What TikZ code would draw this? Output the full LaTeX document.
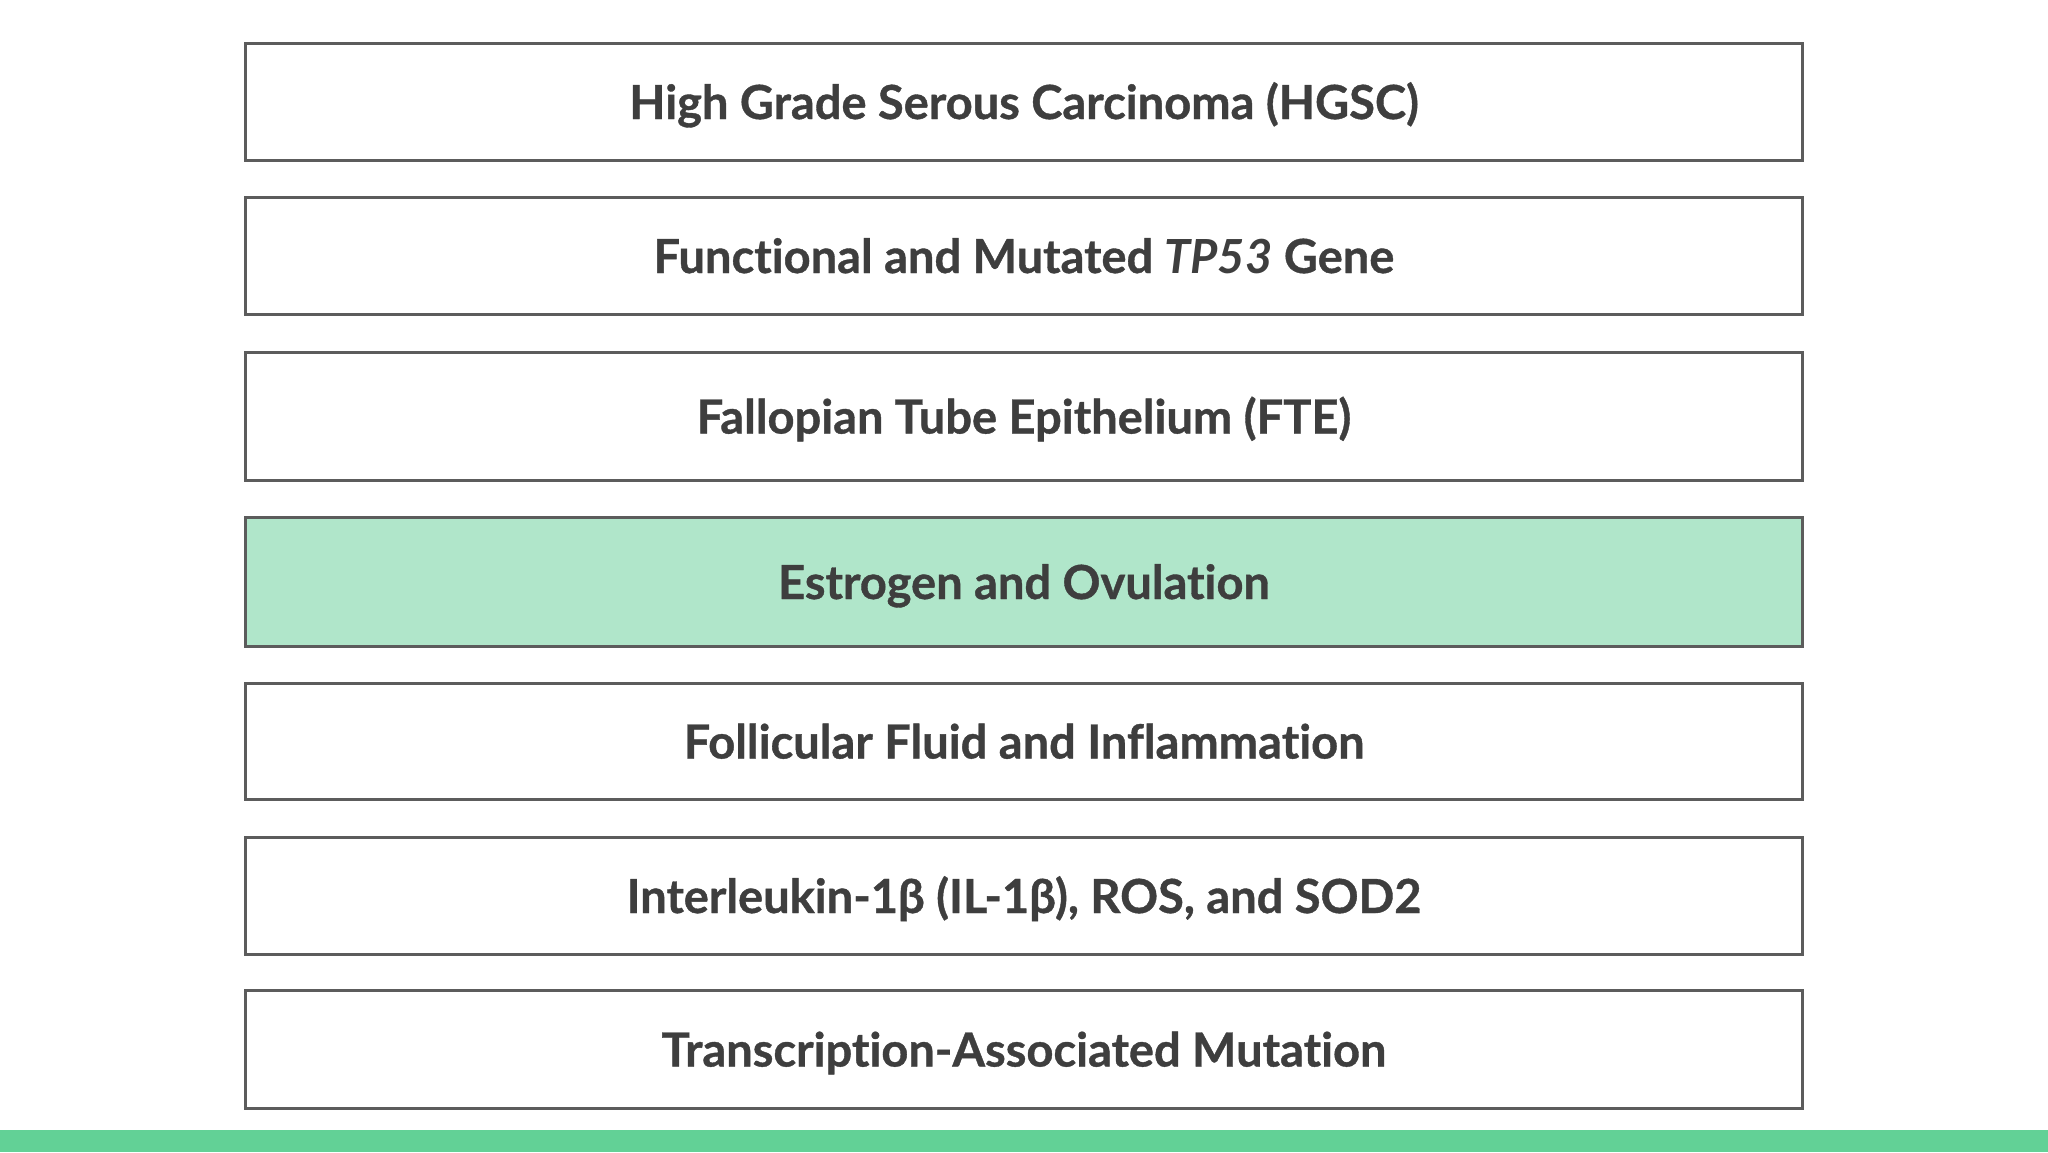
\documentclass[tikz,border=0pt]{standalone}
\usepackage{fontspec}
\setmainfont{Lato}[Ligatures={NoCommon,NoRare},BoldFeatures={FakeBold=0.8}]
\definecolor{edgegray}{HTML}{5C5C5C}
\definecolor{txtgray}{HTML}{3E3E3E}
\definecolor{mint}{HTML}{B0E6CA}
\definecolor{barg}{HTML}{62D196}
\begin{document}
\begin{tikzpicture}[x=1pt,y=-1pt,
  box/.style={draw=edgegray,line width=3pt,fill=white,minimum width=1557pt,
    inner sep=0pt,text=txtgray,text depth=0pt,
    font=\fontsize{47}{56}\selectfont\bfseries},
  hl/.style={box,fill=mint},
  lbl/.style={text=txtgray,inner sep=0pt,font=\fontsize{47}{56}\selectfont\bfseries,anchor=base}]
\useasboundingbox (0,0) rectangle (2048,1152);
\fill[white] (0,0) rectangle (2048,1152);
\fill[barg] (0,1130) rectangle (2048,1152);
\node[box,minimum height=117pt] (b1) at (1024,102) {};
\node[box,minimum height=117pt] (b2) at (1024,256) {};
\node[box,minimum height=128pt] (b3) at (1024,416.5) {};
\node[hl,minimum height=129pt] (b4) at (1024,582) {};
\node[box,minimum height=116pt] (b5) at (1024,741.5) {};
\node[box,minimum height=117pt] (b6) at (1024,896) {};
\node[box,minimum height=118pt] (b7) at (1024,1049.5) {};
\node[lbl] (t1) at ([yshift=-17pt]b1.center) {High Grade Serous Carcinoma (HGSC)};
\node[lbl] (t2) at ([yshift=-17pt]b2.center) {Functional and Mutated \textit{TP53} Gene};
\node[lbl] (t3) at ([yshift=-17pt]b3.center) {Fallopian Tube Epithelium (FTE)};
\node[lbl] (t4) at ([yshift=-17pt]b4.center) {Estrogen and Ovulation};
\node[lbl] (t5) at ([yshift=-17pt]b5.center) {Follicular Fluid and Inflammation};
\node[lbl] (t6) at ([yshift=-17pt]b6.center) {Interleukin-1β (IL-1β), ROS, and SOD2};
\node[lbl] (t7) at ([yshift=-17pt]b7.center) {Transcription-Associated Mutation};
\end{tikzpicture}
\end{document}
